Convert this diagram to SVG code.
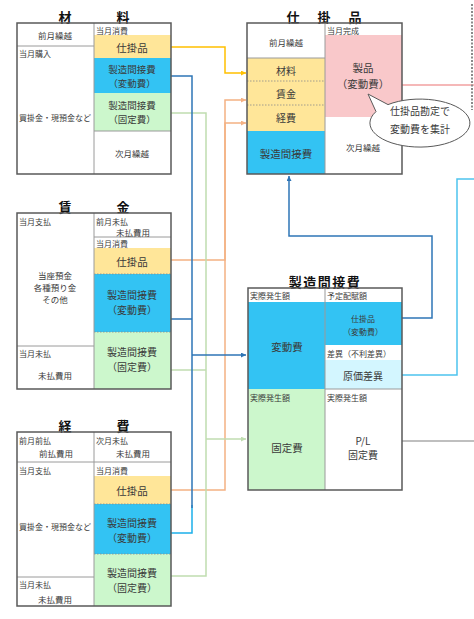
<svg xmlns="http://www.w3.org/2000/svg" width="474" height="619" viewBox="0 0 474 619">
<style>
text{font-family:"Noto Sans CJK JP","Noto Sans CJK SC",sans-serif;fill:#3a3a3a;dominant-baseline:central}
.t{font-size:13px;font-weight:bold;fill:#111;text-anchor:middle}
.s{font-size:8px}
.m{font-size:8.5px;text-anchor:middle}
.c{font-size:10.5px;text-anchor:middle}
.n{font-size:10px;text-anchor:middle}
.k{font-size:9.5px;text-anchor:middle}
.box{fill:none;stroke:#595959;stroke-width:1.5}
.ln{stroke:#9a9a9a;stroke-width:1;fill:none}
.dt{stroke:#8a8a8a;stroke-width:0.8;stroke-dasharray:1.5,1.5;fill:none}
.y{fill:#FFE699}
.b{fill:#33C3F3}
.g{fill:#CCF7CC}
.p{fill:#F9C8CA}
.lc{fill:#D3F6FF}
.con{fill:none;stroke-width:1.5}
</style>
<defs>
<marker id="aY" viewBox="0 0 6 6" refX="6" refY="3" markerWidth="5" markerHeight="5" orient="auto" markerUnits="userSpaceOnUse"><path d="M0,0 L6,3 L0,6 z" fill="#FFC000"/></marker>
<marker id="aO" viewBox="0 0 6 6" refX="6" refY="3" markerWidth="5" markerHeight="5" orient="auto" markerUnits="userSpaceOnUse"><path d="M0,0 L6,3 L0,6 z" fill="#F4B183"/></marker>
<marker id="aB" viewBox="0 0 6 6" refX="6" refY="3" markerWidth="5" markerHeight="5" orient="auto" markerUnits="userSpaceOnUse"><path d="M0,0 L6,3 L0,6 z" fill="#2E75B6"/></marker>
<marker id="aG" viewBox="0 0 6 6" refX="6" refY="3" markerWidth="5" markerHeight="5" orient="auto" markerUnits="userSpaceOnUse"><path d="M0,0 L6,3 L0,6 z" fill="#C0DDB0"/></marker>
</defs>

<g id="connectors">
<path class="con" stroke="#F4B183" d="M171,490 H225 V123 H246" marker-end="url(#aO)"/>
<path class="con" stroke="#F4B183" d="M171,260 H225 V100 H246" marker-end="url(#aO)"/>
<path class="con" stroke="#FFC000" d="M171,47 H225 V73 H246" marker-end="url(#aY)"/>
<path class="con" stroke="#C0DDB0" d="M171,113 H206 V576 H171"/>
<path class="con" stroke="#C0DDB0" d="M171,370 H206"/>
<path class="con" stroke="#C0DDB0" d="M206,439 H246" marker-end="url(#aG)"/>
<path class="con" stroke="#1CB0EA" d="M171,533 H192 V505"/>
<path class="con" stroke="#2E75B6" d="M171,76 H192 V508"/>
<path class="con" stroke="#2E75B6" d="M171,319 H192"/>
<path class="con" stroke="#2E75B6" d="M192,355 H246" marker-end="url(#aB)"/>
<path class="con" stroke="#2E75B6" d="M402,318 H432 V236 H289 V176" marker-end="url(#aB)"/>
<path class="con" stroke="#4DC4EE" d="M402,375 H457 V179 H474"/>
<path class="con" stroke="#F2A0A0" d="M402,85 H474"/>
<path class="con" stroke="#AAAAAA" d="M402,441 H474"/>
<path fill="none" stroke="#8a8a8a" stroke-width="2" stroke-dasharray="2,1.5" d="M472,4 V110"/>
</g>

<g id="zairyo">
<text class="t" x="65" y="16">材</text><text class="t" x="123" y="16">料</text>
<rect class="y" x="94" y="35" width="77" height="23"/>
<rect class="b" x="94" y="58" width="77" height="35"/>
<rect class="g" x="94" y="93" width="77" height="38"/>
<path class="ln" d="M17,46 H94 M94,23 V174 M94,131 H171"/>
<rect class="box" x="17" y="23" width="154" height="151"/>
<text class="m" x="55" y="35">前月繰越</text>
<text class="s" x="19" y="53">当月購入</text>
<text class="s" x="55" y="117" text-anchor="middle">買掛金・現預金など</text>
<text class="s" x="96" y="30">当月消費</text>
<text class="c" x="132" y="47">仕掛品</text>
<text class="k" x="132" y="69">製造間接費</text>
<text class="k" x="132" y="83">（変動費）</text>
<text class="k" x="132" y="105">製造間接費</text>
<text class="k" x="132" y="119">（固定費）</text>
<text class="m" x="132" y="153">次月繰越</text>
</g>

<g id="shikakehin">
<text class="t" x="293" y="16">仕</text><text class="t" x="324" y="16">掛</text><text class="t" x="355" y="16">品</text>
<rect class="y" x="247" y="58" width="78" height="73"/>
<rect class="b" x="247" y="131" width="78" height="43"/>
<rect class="p" x="325" y="35" width="77" height="82"/>
<path class="dt" d="M247,81 H325 M247,105 H325"/>
<path class="ln" d="M247,58 H325 M325,23 V174"/>
<rect class="box" x="247" y="23" width="155" height="151"/>
<text class="m" x="286" y="42">前月繰越</text>
<text class="n" x="286" y="70">材料</text>
<text class="n" x="286" y="93">賃金</text>
<text class="n" x="286" y="117">経費</text>
<text class="c" x="286" y="153">製造間接費</text>
<text class="s" x="327" y="30">当月完成</text>
<text class="c" x="363" y="67">製品</text>
<text class="c" x="363" y="83">（変動費）</text>
<text class="m" x="363" y="147">次月繰越</text>
</g>

<g id="callout">
<path d="M376,111.6 L368,94 L388,104.6 A50 24 0 1 1 376,111.6 Z" fill="#fff" stroke="#595959" stroke-width="1"/>
<text class="n" x="420" y="110">仕掛品勘定で</text>
<text class="n" x="420" y="128">変動費を集計</text>
</g>

<g id="chingin">
<text class="t" x="65" y="206">賃</text><text class="t" x="123" y="206">金</text>
<rect class="y" x="94" y="248" width="77" height="26"/>
<rect class="b" x="94" y="274" width="77" height="58"/>
<rect class="g" x="94" y="332" width="77" height="57"/>
<path class="dt" d="M94,274 H171 M94,332 H171"/>
<path class="ln" d="M17,346 H94 M94,213 V389 M94,237 H171"/>
<rect class="box" x="17" y="213" width="154" height="176"/>
<text class="s" x="19" y="221">当月支払</text>
<text class="m" x="55" y="275">当座預金</text>
<text class="m" x="55" y="287">各種預り金</text>
<text class="m" x="55" y="299">その他</text>
<text class="s" x="19" y="353">当月未払</text>
<text class="m" x="55" y="375">未払費用</text>
<text class="s" x="96" y="221">前月未払</text>
<text class="m" x="133" y="232">未払費用</text>
<text class="s" x="96" y="243">当月消費</text>
<text class="c" x="132" y="261">仕掛品</text>
<text class="n" x="132" y="294.5">製造間接費</text>
<text class="n" x="132" y="309.5">（変動費）</text>
<text class="n" x="132" y="351.5">製造間接費</text>
<text class="n" x="132" y="366.5">（固定費）</text>
</g>

<g id="keihi">
<text class="t" x="65" y="425">経</text><text class="t" x="123" y="425">費</text>
<rect class="y" x="94" y="476" width="77" height="28"/>
<rect class="b" x="94" y="504" width="77" height="50"/>
<rect class="g" x="94" y="554" width="77" height="52"/>
<path class="dt" d="M94,504 H171 M94,554 H171"/>
<path class="ln" d="M17,462 H171 M94,432 V606 M17,577 H94"/>
<rect class="box" x="17" y="432" width="154" height="174"/>
<text class="s" x="19" y="440">前月前払</text>
<text class="m" x="56" y="453">前払費用</text>
<text class="s" x="96" y="440">次月未払</text>
<text class="m" x="133" y="453">未払費用</text>
<text class="s" x="19" y="470">当月支払</text>
<text class="s" x="96" y="470">当月消費</text>
<text class="s" x="55" y="526" text-anchor="middle">買掛金・現預金など</text>
<text class="s" x="19" y="584">当月未払</text>
<text class="m" x="55" y="599">未払費用</text>
<text class="c" x="132" y="490">仕掛品</text>
<text class="n" x="132" y="522">製造間接費</text>
<text class="n" x="132" y="537">（変動費）</text>
<text class="n" x="132" y="572.5">製造間接費</text>
<text class="n" x="132" y="587.5">（固定費）</text>
</g>

<g id="seizokansetsuhi">
<text class="t" x="325" y="281" letter-spacing="1.5">製造間接費</text>
<rect class="b" x="248" y="302" width="77" height="87"/>
<rect class="b" x="325" y="302" width="77" height="43"/>
<rect class="lc" x="325" y="360" width="77" height="29"/>
<rect class="g" x="248" y="389" width="77" height="101"/>
<path class="ln" d="M325,288 V490 M325,389 H402"/>
<rect class="box" x="248" y="288" width="154" height="202"/>
<text class="s" x="250" y="295">実際発生額</text>
<text class="s" x="327" y="295">予定配賦額</text>
<text class="c" x="287" y="346">変動費</text>
<text class="s" x="363" y="318.5" text-anchor="middle" font-size="9">仕掛品</text>
<text class="s" x="363" y="331.5" text-anchor="middle">（変動費）</text>
<text class="s" x="327" y="353">差異（不利差異）</text>
<text class="n" x="363" y="375">原価差異</text>
<text class="s" x="250" y="397">実際発生額</text>
<text class="s" x="327" y="397">実際発生額</text>
<text class="c" x="287" y="447">固定費</text>
<text class="n" x="363" y="440">P/L</text>
<text class="n" x="363" y="454">固定費</text>
</g>
</svg>
